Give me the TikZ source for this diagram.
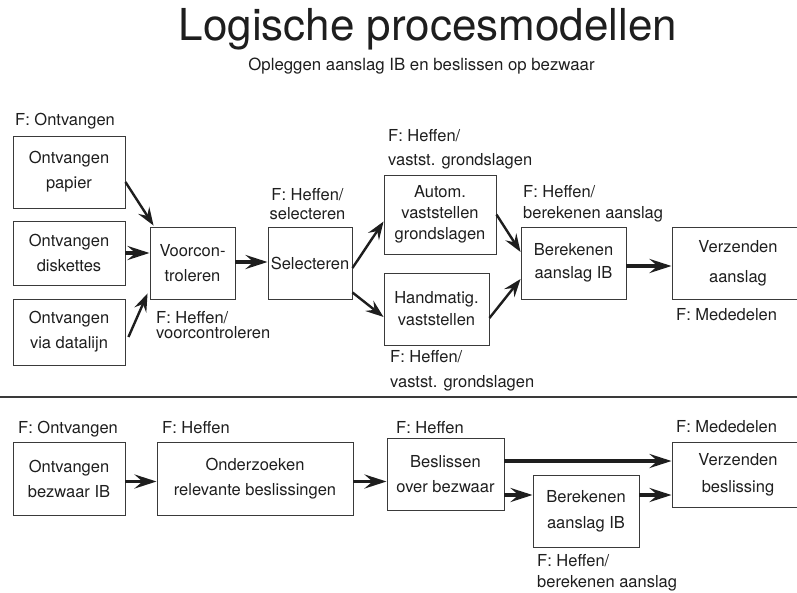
\documentclass[tikz,border=0pt]{standalone}
\usepackage{fontspec}
\setmainfont{TeX Gyre Heros}
\usetikzlibrary{arrows.meta,calc}
\definecolor{ink}{HTML}{1E1E1E}
\definecolor{edge}{HTML}{3A3A3A}
\begin{document}
\begin{tikzpicture}[x=1pt,y=-1pt,
  procbox/.style={draw=edge, line width=0.9pt, align=center, inner sep=0pt,
    text=ink, font=\fontsize{16.5}{#1}\selectfont},
  procbox/.default=25,
  flabel/.style={inner sep=0pt, text=ink, align=left,
    font=\fontsize{16.5}{#1}\selectfont},
  flabel/.default=20,
  flow/.style={draw=ink, line width=3.4pt,
    -{Stealth[length=22pt,width=14pt,inset=8pt]}},
  slant/.style={draw=ink, line width=2.4pt,
    -{Stealth[length=18pt,width=13pt,inset=6.5pt]}},
]
\useasboundingbox (0,0) rectangle (797,592);
\clip (0,0) rectangle (797,592);

% headings
\node[font=\fontsize{44}{50}\selectfont, text=ink, inner sep=0pt, anchor=base]
  (title) at (428,40) {Logische procesmodellen};
\node[font=\fontsize{16.8}{20}\selectfont, text=ink, inner sep=0pt, anchor=base]
  (subtitle) at (421.5,70) {Opleggen aanslag IB en beslissen op bezwaar};

% ---------- upper model: opleggen aanslag ----------
\node[procbox, minimum width=112pt, minimum height=72pt] (papier) at (69,172) {Ontvangen\\papier};
\node[procbox, minimum width=112pt, minimum height=64pt] (diskettes) at (69,253) {Ontvangen\\diskettes};
\node[procbox, minimum width=112pt, minimum height=66pt] (datalijn) at (69,332) {Ontvangen\\via datalijn};
\node[procbox, minimum width=85pt, minimum height=72pt] (voorcon) at (192.5,263) {Voorcon-\\troleren};
\node[procbox, minimum width=84pt, minimum height=72pt] (select) at (310,263) {Selecteren};
\node[procbox=21, minimum width=112pt, minimum height=79pt] (autom) at (440,214.5) {Autom.\\vaststellen\\grondslagen};
\node[procbox=22, minimum width=105pt, minimum height=72pt] (handm) at (436.5,309) {Handmatig.\\vaststellen};
\node[procbox=23, minimum width=105pt, minimum height=72pt] (bereken) at (573.5,263) {Berekenen\\aanslag IB};
\node[procbox=30, minimum width=132pt, minimum height=72pt] (verzend) at (738,263) {Verzenden\\aanslag};

\node[flabel, anchor=base west] (fOntv) at (15,125) {F: Ontvangen};
\node[flabel=19, align=center, anchor=north] (fSelect) at (307.5,188) {F: Heffen/\\selecteren};
\node[flabel=15.5, anchor=north west] (fVoorcon) at (156,311) {F: Heffen/\\voorcontroleren};
\node[flabel=24, anchor=north west] (fAutom) at (388,129) {F: Heffen/\\vastst. grondslagen};
\node[flabel=21, anchor=north west] (fBereken) at (523,185) {F: Heffen/\\berekenen aanslag};
\node[flabel, anchor=base west] (fMeded) at (676,320) {F: Mededelen};
\node[flabel=25, anchor=north west] (fHandm) at (390,350) {F: Heffen/\\vastst. grondslagen};

\draw[slant] ([yshift=-10pt]papier.east) -- ([xshift=4pt,yshift=1pt]voorcon.north west);
\draw[flow] (diskettes.east) -- (diskettes.east -| voorcon.west);
\draw[slant] ([xshift=3pt,yshift=-5pt]datalijn.east) -- ([xshift=-2pt,yshift=6pt]voorcon.south west);
\draw[flow] ([yshift=1pt]voorcon.east) -- ([yshift=1pt]voorcon.east -| select.west);
\draw[slant] ([yshift=-5pt]select.east) -- ([yshift=-7pt]autom.west);
\draw[slant] ([yshift=7pt]select.south east) -- ([yshift=-8pt]handm.west);
\draw[slant] (autom.east) -- ([yshift=11pt]bereken.west);
\draw[slant] ([yshift=-9pt]handm.east) -- ([yshift=-16pt]bereken.west);
\draw[flow] ([yshift=-3pt]bereken.east) -- ([yshift=-3pt]bereken.east -| verzend.west);

% separator between the two models
\coordinate (sepL) at (0,397);
\coordinate (sepR) at (797,397);
\draw[edge, line width=1.2pt] (sepL) -- (sepR);

% ---------- lower model: beslissen op bezwaar ----------
\node[procbox, minimum width=112pt, minimum height=73pt] (bezwaar) at (69,478.5) {Ontvangen\\bezwaar IB};
\node[procbox, minimum width=196pt, minimum height=73pt] (onderz) at (255,478.5) {Onderzoeken\\relevante beslissingen};
\node[procbox, minimum width=117pt, minimum height=72pt] (beslis) at (445.5,474) {Beslissen\\over bezwaar};
\node[procbox=26, minimum width=106pt, minimum height=72pt] (bereken2) at (586,511) {Berekenen\\aanslag IB};
\node[procbox=27, minimum width=132pt, minimum height=65pt] (verzend2) at (738,474.5) {Verzenden\\beslissing};

\node[flabel, anchor=base west] (fOntv2) at (18,433) {F: Ontvangen};
\node[flabel, anchor=base west] (fHeffen1) at (162,433) {F: Heffen};
\node[flabel, anchor=base west] (fHeffen2) at (396,433) {F: Heffen};
\node[flabel, anchor=base west] (fMeded2) at (676,432) {F: Mededelen};
\node[flabel=21, anchor=north west] (fBereken2) at (537,554) {F: Heffen/\\berekenen aanslag};

\draw[flow] ([yshift=-3pt]bezwaar.east) -- ([yshift=-3pt]bezwaar.east -| onderz.west);
\draw[flow] ([yshift=-3pt]onderz.east) -- ([yshift=-3pt]onderz.east -| beslis.west);
\draw[flow] ([yshift=13pt]beslis.east) -- ([yshift=13pt]beslis.east -| verzend2.west);
\draw[flow] ([yshift=-21pt]beslis.east) -- ([yshift=-21pt]beslis.east -| bereken2.west);
\draw[flow] ([yshift=16pt]bereken2.east) -- ([yshift=16pt]bereken2.east -| verzend2.west);
\end{tikzpicture}
\end{document}
